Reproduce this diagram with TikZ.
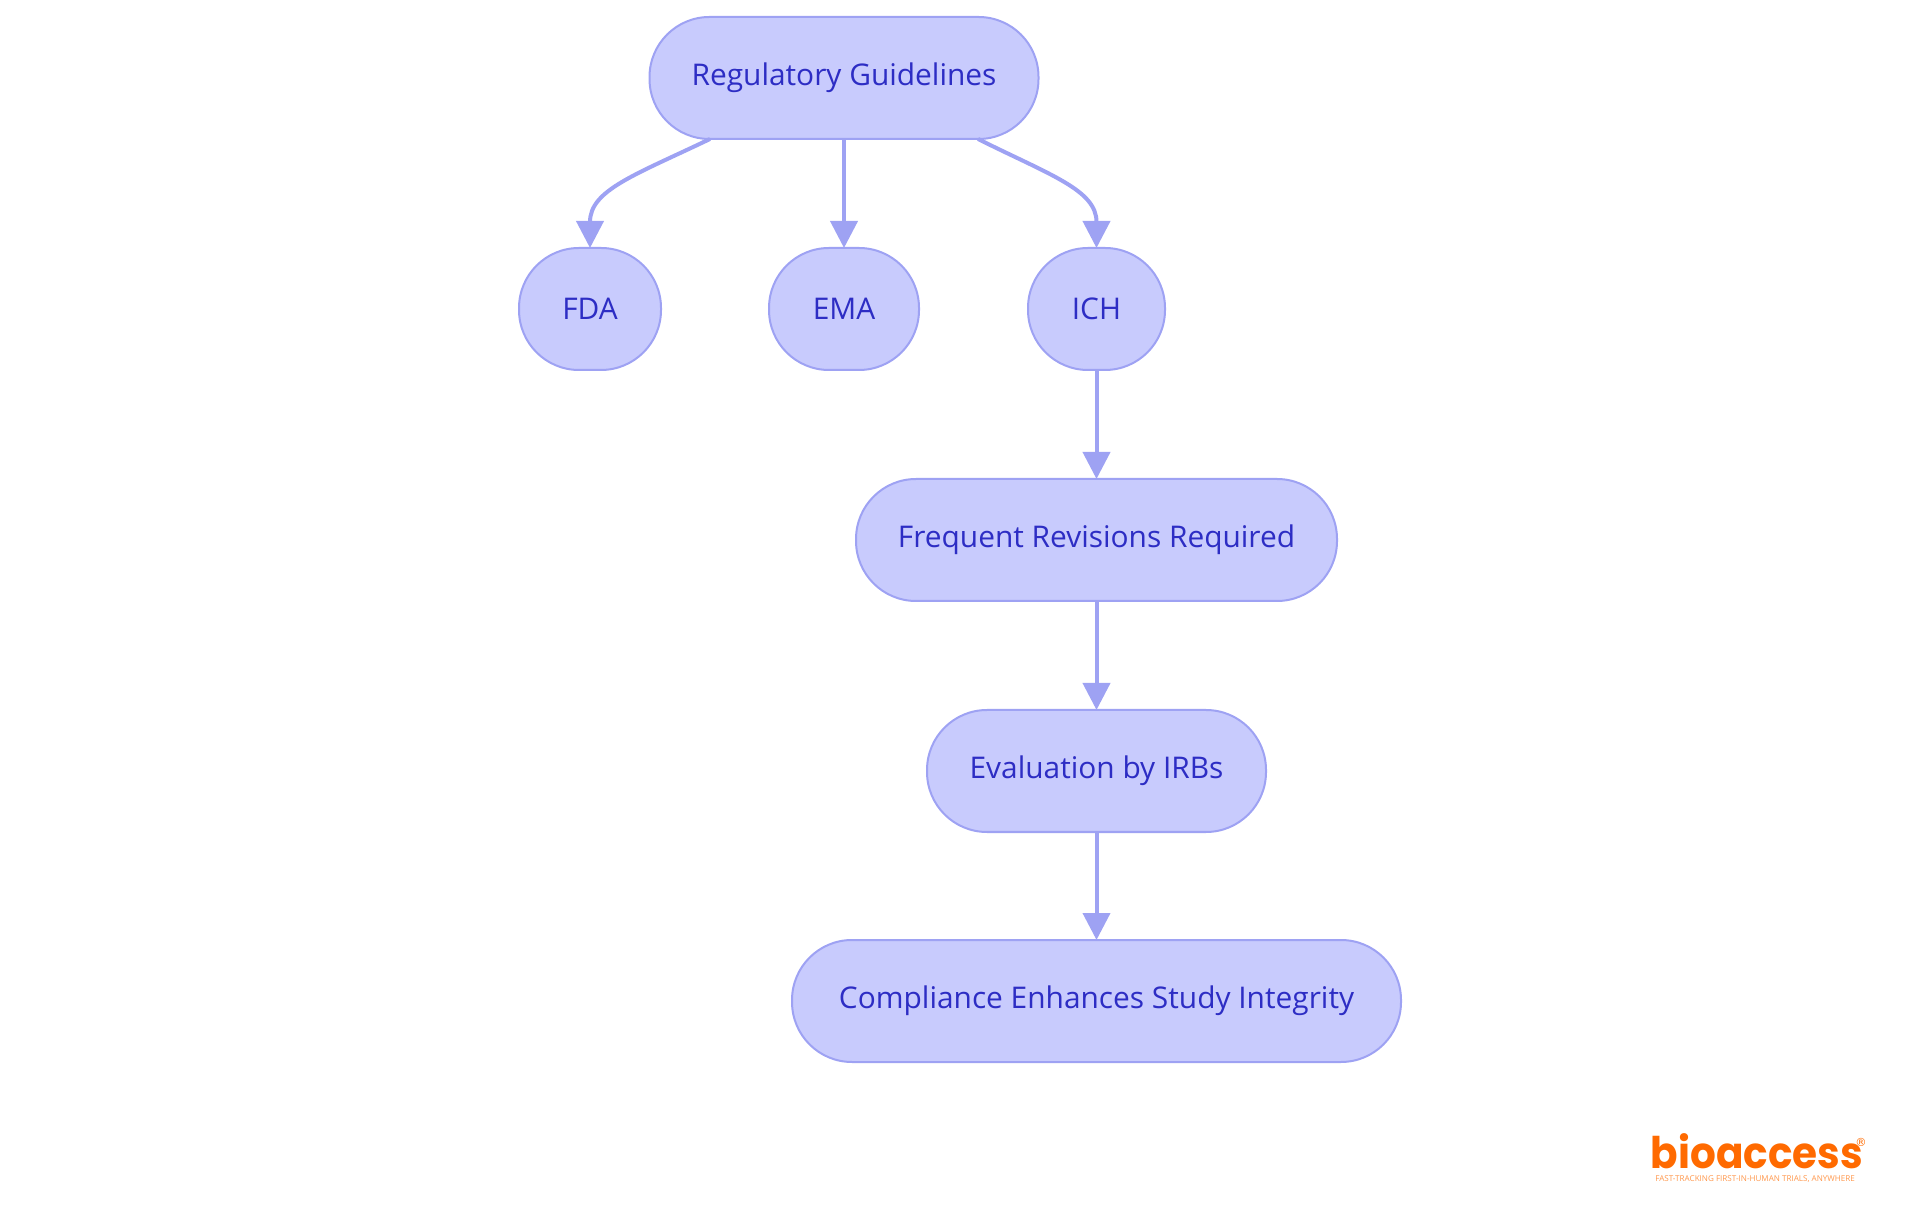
\documentclass[tikz,border=0pt]{standalone}
\usepackage{fontspec}
\setmainfont{Open Sans}
\newfontfamily\logofont{Poppins}
\newfontfamily\markfont{DejaVu Sans}
\usetikzlibrary{arrows.meta}
\definecolor{flowfill}{HTML}{C8CBFD}
\definecolor{flowline}{HTML}{9EA2F3}
\definecolor{flowtext}{HTML}{2D2DC4}
\definecolor{logoorange}{HTML}{FF6A00}
\tikzset{
	flownode/.style={draw=flowline,fill=flowfill,text=flowtext,line width=0.02cm,rounded corners=0.6cm,minimum height=1.22cm,inner sep=0pt,outer sep=0pt,font=\fontsize{8.5}{10}\selectfont},
	flowedge/.style={draw=flowline,line width=0.04cm,-{Triangle[length=0.27cm,width=0.27cm]}},
}
\begin{document}
\begin{tikzpicture}
	\useasboundingbox (0,0) rectangle (19.2,12.15);
	\node [flownode,minimum width=3.89cm] (guidelines) at (8.44,11.37) {Regulatory Guidelines};
	\node [flownode,minimum width=1.42cm] (fda) at (5.90,9.06) {FDA};
	\node [flownode,minimum width=1.50cm] (ema) at (8.44,9.06) {EMA};
	\node [flownode,minimum width=1.37cm] (ich) at (10.965,9.06) {ICH};
	\node [flownode,minimum width=4.81cm] (revisions) at (10.965,6.75) {Frequent Revisions Required};
	\node [flownode,minimum width=3.39cm] (irbs) at (10.965,4.44) {Evaluation by IRBs};
	\node [flownode,minimum width=6.09cm] (compliance) at (10.965,2.14) {Compliance Enhances Study Integrity};
	\coordinate (guidelinesleft) at (7.10,10.76);
	\coordinate (guidelinesright) at (9.78,10.76);
	\draw [flowedge] (guidelinesleft) .. controls (6.35,10.40) and (5.90,10.25) .. (fda.north);
	\draw [flowedge] (guidelines.south) -- (ema.north);
	\draw [flowedge] (guidelinesright) .. controls (10.50,10.40) and (10.965,10.25) .. (ich.north);
	\draw [flowedge] (ich.south) -- (revisions.north);
	\draw [flowedge] (revisions.south) -- (irbs.north);
	\draw [flowedge] (irbs.south) -- (compliance.north);
	\node [text=logoorange,inner sep=0pt,xscale=0.93,font=\logofont\bfseries\fontsize{12.4}{13}\selectfont] (logo) at (17.57,0.64) {bioaccess};
	\node [text=logoorange,inner sep=0pt,font=\markfont\fontsize{3.2}{4}\selectfont] (logomark) at (18.61,0.73) {®};
	\node [text=logoorange!70,inner sep=0pt,font=\fontsize{2.3}{3}\selectfont] (logotag) at (17.55,0.36) {FAST-TRACKING FIRST-IN-HUMAN TRIALS, ANYWHERE};
\end{tikzpicture}
\end{document}
